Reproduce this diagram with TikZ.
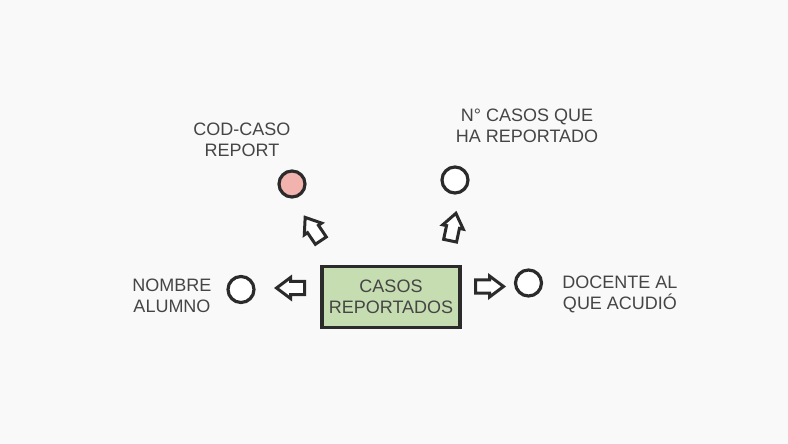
\documentclass[tikz,border=0pt]{standalone}
\usepackage{fontspec}
\setmainfont{Liberation Sans}
\definecolor{bg}{HTML}{F9F9F9}
\definecolor{ink}{HTML}{2B2B2B}
\definecolor{txt}{HTML}{454545}
\definecolor{boxgreen}{HTML}{C5DDB0}
\definecolor{pinkfill}{HTML}{F2B3AE}
\begin{document}
\begin{tikzpicture}[x=1pt,y=-1pt,
  lbl/.style={text=txt,align=center,font=\fontsize{18}{21}\selectfont,inner sep=0},
  attr/.style={circle,draw=ink,line width=3.2pt,fill=white,minimum size=26pt,inner sep=0},
  entity/.style={draw=ink,line width=3.2pt,fill=boxgreen,minimum width=138pt,minimum height=61pt,inner sep=0,text=txt,align=center,font=\fontsize{18}{21}\selectfont},
  blockarrow/.pic={\draw[draw=ink,line width=3pt,fill=white,line join=miter]
     (-14,-6.6) -- (0,-6.6) -- (0,-10.5) -- (14,0) -- (0,10.5) -- (0,6.6) -- (-14,6.6) -- cycle;}]
\path[fill=bg] (0,0) rectangle (788,444);
\node[entity] (casos) at (391,297) {CASOS\\REPORTADOS};
\node[attr,fill=pinkfill] (cod) at (292,184) {};
\node[attr] (num) at (455,180) {};
\node[attr] (nom) at (241,289.5) {};
\node[attr] (doc) at (528.5,283) {};
\node[lbl] (lcod) at (242,140) {COD-CASO\\REPORT};
\node[lbl] (lnum) at (527,126) {N° CASOS QUE\\HA REPORTADO};
\node[lbl] (lnom) at (172,295.5) {NOMBRE\\ALUMNO};
\node[lbl] (ldoc) at (620,294) {DOCENTE AL\\QUE ACUDIÓ};
\pic (aleft) [rotate=180] at (290.5,288) {blockarrow};
\pic (aright) at (489.5,286.5) {blockarrow};
\pic (aul) [rotate=124] at (313,229) {blockarrow};
\pic (aur) [rotate=78] at (453,227) {blockarrow};
\end{tikzpicture}
\end{document}
